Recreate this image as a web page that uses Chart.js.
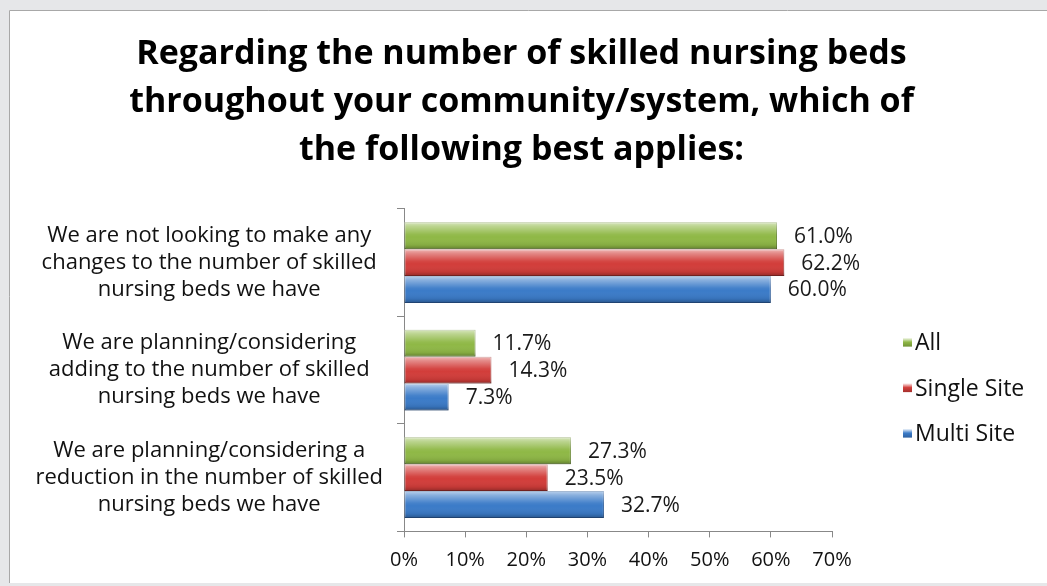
<!DOCTYPE html>
<html>
<head>
<meta charset="utf-8">
<script src="https://cdn.jsdelivr.net/npm/chart.js@4.4.0/dist/chart.umd.min.js"></script>
<style>
  html, body { margin: 0; padding: 0; background: #e6e7e9; }
  #wrap { position: relative; width: 1047px; height: 586px; }
</style>
</head>
<body>
<div id="wrap"><canvas id="bedsChart" width="1047" height="586"></canvas></div>
<script>
// Datos del gráfico
const categories = [
    ['We are not looking to make any', 'changes to the number of skilled', 'nursing beds we have'],
    ['We are planning/considering', 'adding to the number of skilled', 'nursing beds we have'],
    ['We are planning/considering a', 'reduction in the number of skilled', 'nursing beds we have']
];
const seriesNames = ['All', 'Single Site', 'Multi Site'];
const allValues = [61.0, 11.7, 27.3];
const singleSiteValues = [62.2, 14.3, 23.5];
const multiSiteValues = [60.0, 7.3, 32.7];
const xTicks = [0, 10, 20, 30, 40, 50, 60, 70];

const barColors = ['#8fb846', '#d23d3a', '#3b7bc8'];
const barEdges = ['#6a8a33', '#9a2d2a', '#2a5a98'];
const FONT = '"Open Sans", sans-serif';

// fondo gris y panel blanco
const panelPlugin = {
    id: 'panel',
    beforeDraw(chart) {
        const c = chart.ctx;
        c.save();
        c.fillStyle = '#e6e7e9';
        c.fillRect(0, 0, chart.width, chart.height);
        c.fillStyle = '#ffffff';
        c.fillRect(9, 10, chart.width - 9, 573);
        c.strokeStyle = '#a8a8a8';
        c.lineWidth = 1;
        c.beginPath();
        c.moveTo(9.5, 583); c.lineTo(9.5, 10.5); c.lineTo(chart.width, 10.5);
        c.stroke();
        c.restore();
    }
};

// brillo sobre las barras + etiquetas de valor
const glossPlugin = {
    id: 'gloss',
    afterDatasetsDraw(chart) {
        const c = chart.ctx;
        c.save();
        chart.data.datasets.forEach((ds, di) => {
            const meta = chart.getDatasetMeta(di);
            meta.data.forEach((bar, i) => {
                const top = bar.y - bar.height / 2;
                const left = bar.base;
                const w = bar.x - bar.base;
                const g = c.createLinearGradient(0, top, 0, top + bar.height);
                g.addColorStop(0, 'rgba(255,255,255,0.65)');
                g.addColorStop(0.15, 'rgba(255,255,255,0.4)');
                g.addColorStop(0.45, 'rgba(255,255,255,0.05)');
                g.addColorStop(0.55, 'rgba(255,255,255,0.0)');
                g.addColorStop(0.85, 'rgba(0,0,0,0.08)');
                g.addColorStop(1, 'rgba(0,0,0,0.3)');
                c.fillStyle = g;
                c.fillRect(left, top, w, bar.height);

                c.fillStyle = '#1a1a1a';
                c.font = '21px ' + FONT;
                c.textAlign = 'left';
                c.textBaseline = 'middle';
                c.fillText(ds.data[i].toFixed(1) + '%', bar.x + 17, bar.y + 1);
            });
        });
        c.restore();
    }
};

// leyenda a la derecha
const legendPlugin = {
    id: 'sideLegend',
    afterDraw(chart) {
        const c = chart.ctx;
        const area = chart.chartArea;
        const x = area.right + 71;
        const midY = (area.top + area.bottom) / 2 + 18;
        const step = 45.5;
        c.save();
        c.font = '23px ' + FONT;
        c.textAlign = 'left';
        c.textBaseline = 'middle';
        chart.data.datasets.forEach((ds, i) => {
            const y = midY + (i - 1) * step;
            const g = c.createLinearGradient(0, y - 5, 0, y + 5);
            g.addColorStop(0, '#ffffff');
            g.addColorStop(0.45, barColors[i]);
            g.addColorStop(1, barEdges[i]);
            c.fillStyle = g;
            c.fillRect(x, y - 5, 9, 9);
            c.fillStyle = '#111';
            c.fillText(ds.label, x + 12, y + 1);
        });
        c.restore();
    }
};

function createBedsChart() {
    const ctx = document.getElementById('bedsChart').getContext('2d');
    const values = [allValues, singleSiteValues, multiSiteValues];
    const data = {
        labels: categories,
        datasets: seriesNames.map((name, k) => ({
            label: name,
            data: values[k],
            backgroundColor: barColors[k],
            borderColor: barEdges[k],
            borderWidth: 1,
            borderSkipped: false,
            categoryPercentage: 0.75,
            barPercentage: 1.0
        }))
    };

    new Chart(ctx, {
        type: 'bar',
        data: data,
        options: {
            indexAxis: 'y',
            responsive: false,
            animation: false,
            layout: { padding: { top: 30, left: 13, right: 17, bottom: 1 } },
            plugins: {
                title: {
                    display: true,
                    text: ['Regarding the number of skilled nursing beds',
                           'throughout your community/system, which of',
                           'the following best applies:'],
                    color: '#000',
                    font: { family: FONT, size: 34, weight: 'bold', lineHeight: 1.41 },
                    padding: { top: 0, bottom: 35 }
                },
                legend: { display: false },
                tooltip: { enabled: false }
            },
            scales: {
                x: {
                    min: 0,
                    max: 70,
                    afterBuildTicks(axis) { axis.ticks = xTicks.map(v => ({ value: v })); },
                    ticks: {
                        callback: v => v + '%',
                        color: '#111',
                        font: { family: FONT, size: 20, lineHeight: 1.0 },
                        padding: 13
                    },
                    grid: { drawOnChartArea: false, drawTicks: true, tickLength: 6, color: '#888' },
                    border: { color: '#888' }
                },
                y: {
                    afterFit(axis) { axis.width = 391; },
                    ticks: {
                        crossAlign: 'center',
                        color: '#111',
                        font: { family: FONT, size: 22, lineHeight: 1.23 },
                        padding: 14
                    },
                    grid: { drawOnChartArea: false, drawTicks: true, tickLength: 7, color: '#888' },
                    border: { color: '#888' }
                },
                // espacio reservado para la leyenda
                legendSpace: {
                    type: 'category',
                    axis: 'y',
                    position: 'right',
                    afterFit(axis) { axis.width = 198; },
                    ticks: { display: false },
                    grid: { display: false },
                    border: { display: false }
                }
            }
        },
        plugins: [panelPlugin, glossPlugin, legendPlugin]
    });
}

document.addEventListener('DOMContentLoaded', createBedsChart);
</script>
</body>
</html>
